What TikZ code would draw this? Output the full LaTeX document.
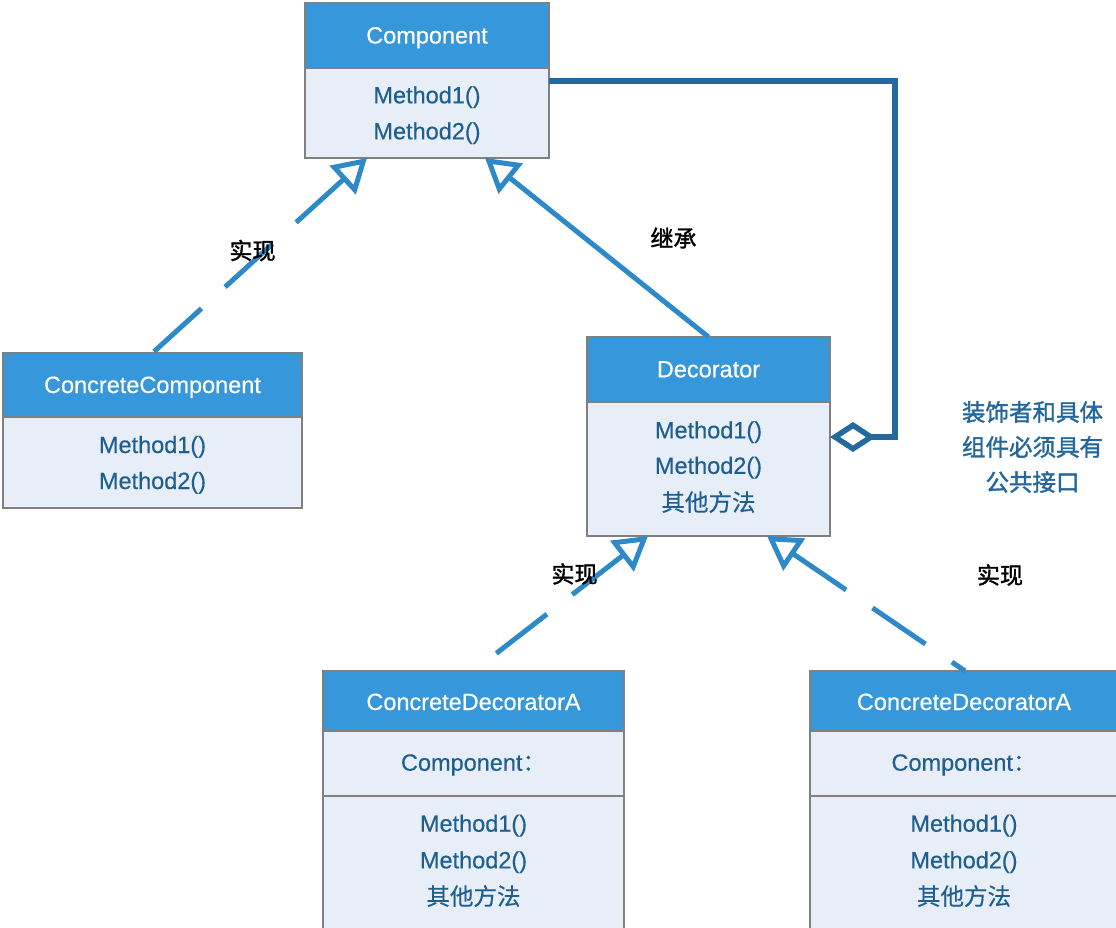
\documentclass[tikz,border=0pt]{standalone}
\usepackage{fontspec}
\setmainfont{Liberation Sans}[FakeBold=0.4]
\newfontfamily\cjk{Noto Sans CJK SC}[FakeBold=0.4]
\newfontfamily\cjkb{Noto Sans CJK SC}[FakeBold=1.5]
\usetikzlibrary{arrows.meta,calc}
\definecolor{hdrblue}{HTML}{3797DB}
\definecolor{bodyfill}{HTML}{E8EEF8}
\definecolor{framegray}{HTML}{808080}
\definecolor{txtblue}{HTML}{1F5F8F}
\definecolor{arrowblue}{HTML}{2E89C9}
\definecolor{aggblue}{HTML}{23699E}
\definecolor{notecol}{HTML}{23679C}
\begin{document}
\begin{tikzpicture}[x=1pt,y=-1pt,
  hdr/.style={draw=framegray, line width=2pt, fill=hdrblue, anchor=north west, inner sep=0pt, outer sep=0pt},
  sect/.style={draw=framegray, line width=2pt, fill=bodyfill, anchor=north west, inner sep=0pt, outer sep=0pt},
  title/.style={text=white, anchor=base, inner sep=0pt, font=\fontsize{23.5}{28}\selectfont},
  txt/.style={text=txtblue, anchor=base, inner sep=0pt, font=\fontsize{23.5}{28}\selectfont},
  lbl/.style={text=black, inner sep=0pt, font=\cjkb\fontsize{23}{28}\selectfont},
  note/.style={text=notecol, inner sep=0pt, align=center, font=\cjkb\fontsize{23.5}{35}\selectfont},
  tri/.tip={Triangle[open,length=33pt,width=38pt]},
  implrev/.style={draw=arrowblue, line width=5pt, dash pattern=on 64pt off 32pt, tri-},
  inherit/.style={draw=arrowblue, line width=5pt, -tri},
  agg/.style={draw=aggblue, line width=5.5pt, line join=miter, {Diamond[open,length=46pt,width=30pt]}-}
]
\useasboundingbox (0,0) rectangle (1116,928);
\clip (0,0) rectangle (1116,928);

% Component
\node[hdr, minimum width=244pt, minimum height=65pt] (comp) at (305,3) {};
\node[sect, minimum width=244pt, minimum height=90pt] (compb) at (305,68) {};
\node[title] (compt) at (427,43.5) {Component};
\node[txt] (compm1) at (427,103.3) {Method1()};
\node[txt] (compm2) at (427,139.3) {Method2()};

% ConcreteComponent
\node[hdr, minimum width=299pt, minimum height=64pt] (cc) at (3,353) {};
\node[sect, minimum width=299pt, minimum height=91pt] (ccb) at (3,417) {};
\node[title] (cct) at (152.5,393) {ConcreteComponent};
\node[txt] (ccm1) at (152.5,453) {Method1()};
\node[txt] (ccm2) at (152.5,489) {Method2()};

% Decorator
\node[hdr, minimum width=243pt, minimum height=65pt] (dec) at (587,337) {};
\node[sect, minimum width=243pt, minimum height=134pt] (decb) at (587,402) {};
\node[title] (dect) at (708.5,377.3) {Decorator};
\node[txt] (decm1) at (708.5,438.3) {Method1()};
\node[txt] (decm2) at (708.5,473.8) {Method2()};
\node[txt] (decm3) at (708.5,511) {\cjk 其他方法};

% ConcreteDecoratorA (left)
\node[hdr, minimum width=301pt, minimum height=60pt] (cda1) at (323,671) {};
\node[sect, minimum width=301pt, minimum height=65pt] (cda1a) at (323,731) {};
\node[sect, minimum width=301pt, minimum height=150pt] (cda1b) at (323,796) {};
\node[title] (cda1t) at (473.5,710) {ConcreteDecoratorA};
\node[txt] (cda1c) at (473.5,770.7) {Component{\cjk ：}};
\node[txt] (cda1m1) at (473.5,831.7) {Method1()};
\node[txt] (cda1m2) at (473.5,868.3) {Method2()};
\node[txt] (cda1m3) at (473.5,905) {\cjk 其他方法};

% ConcreteDecoratorA (right)
\node[hdr, minimum width=308pt, minimum height=60pt] (cda2) at (810,671) {};
\node[sect, minimum width=308pt, minimum height=65pt] (cda2a) at (810,731) {};
\node[sect, minimum width=308pt, minimum height=150pt] (cda2b) at (810,796) {};
\node[title] (cda2t) at (964,710) {ConcreteDecoratorA};
\node[txt] (cda2c) at (964,770.7) {Component{\cjk ：}};
\node[txt] (cda2m1) at (964,831.7) {Method1()};
\node[txt] (cda2m2) at (964,868.3) {Method2()};
\node[txt] (cda2m3) at (964,905) {\cjk 其他方法};

% connectors
\draw[implrev] ($(compb.south west)+(62,0)$) -- (cc.north);
\draw[inherit] (dec.north) -- ($(compb.south west)+(180,0)$);
\draw[agg] ($(decb.north east)+(0,35)$) -- ++(65,0) |- ($(compb.north east)+(0,13)$);
\draw[implrev] ($(decb.south west)+(61,0)$) -- (cda1.north);
\draw[implrev] ($(decb.south west)+(180,0)$) -- ($(cda2.north west)+(155,0)$);

% labels
\node[lbl] (l1) at (252.5,250.5) {实现};
\node[lbl] (l2) at (673.5,238) {继承};
\node[lbl] (l3) at (574.5,574) {实现};
\node[lbl] (l4) at (1000,575) {实现};
\node[note] (n1) at (1032.5,447) {装饰者和具体\\组件必须具有\\公共接口};
\end{tikzpicture}
\end{document}
